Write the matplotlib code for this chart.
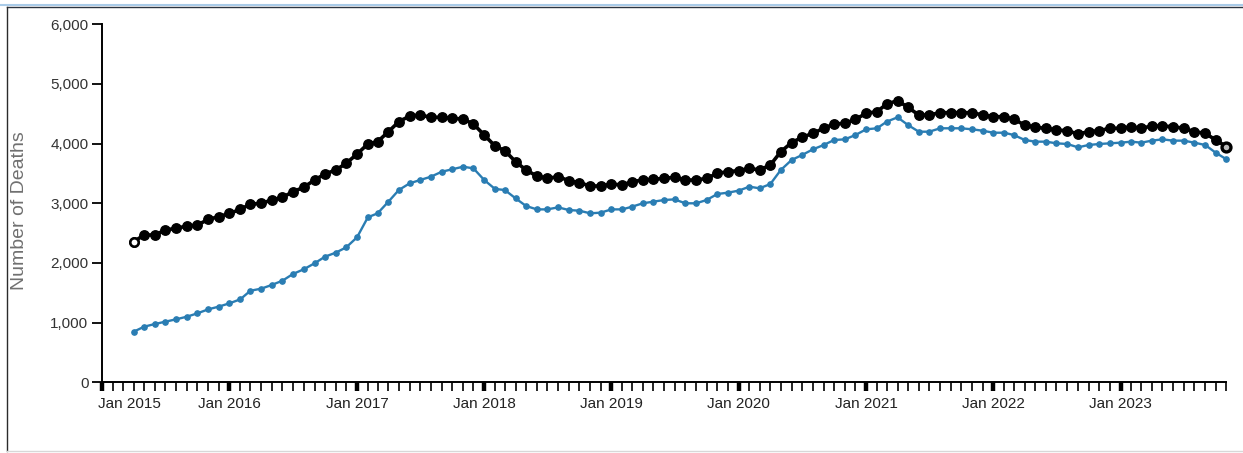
import matplotlib
matplotlib.use("Agg")
import matplotlib.pyplot as plt
import matplotlib.dates as mdates
from matplotlib.lines import Line2D
from matplotlib.transforms import ScaledTranslation
from matplotlib.ticker import FuncFormatter
import pandas as pd

# ---------------- data ----------------
start_month = "2015-04-01"
months = pd.date_range(start_month, periods=104, freq="MS")

total_deaths = [
    2356, 2469, 2469, 2552, 2581, 2619, 2636, 2731, 2775, 2831, 2898, 2987,
    2998, 3055, 3100, 3194, 3268, 3390, 3491, 3558, 3670, 3826, 3994, 4033,
    4200, 4368, 4463, 4480, 4441, 4441, 4424, 4413, 4329, 4144, 3960, 3882,
    3697, 3558, 3457, 3418, 3446, 3379, 3345, 3290, 3290, 3323, 3307, 3362,
    3390, 3402, 3418, 3435, 3390, 3390, 3418, 3502, 3530, 3547, 3586, 3558,
    3642, 3865, 4016, 4106, 4173, 4257, 4329, 4340, 4407, 4508, 4536, 4664,
    4720, 4609, 4480, 4480, 4519, 4519, 4519, 4519, 4480, 4452, 4452, 4407,
    4312, 4273, 4257, 4228, 4217, 4161, 4200, 4217, 4257, 4257, 4284, 4257,
    4295, 4295, 4284, 4257, 4200, 4173, 4061, 3949,
]

subset_deaths = [
    848, 932, 977, 1016, 1056, 1100, 1156, 1223, 1268, 1324, 1391, 1535,
    1569, 1631, 1703, 1815, 1894, 1994, 2105, 2173, 2262, 2430, 2765, 2832,
    3027, 3223, 3335, 3390, 3446, 3529, 3570, 3613, 3586, 3390, 3240, 3223,
    3083, 2955, 2898, 2898, 2932, 2887, 2876, 2832, 2843, 2898, 2898, 2943,
    3000, 3027, 3055, 3066, 3000, 3000, 3055, 3156, 3178, 3212, 3279, 3251,
    3323, 3558, 3726, 3809, 3904, 3977, 4061, 4072, 4144, 4240, 4257, 4368,
    4441, 4312, 4200, 4200, 4257, 4257, 4257, 4240, 4217, 4183, 4183, 4144,
    4061, 4033, 4033, 4005, 3994, 3938, 3977, 3994, 4005, 4016, 4033, 4016,
    4050, 4072, 4050, 4050, 4016, 3977, 3848, 3737,
]

y_ticks = [0, 1000, 2000, 3000, 4000, 5000, 6000]
y_label = "Number of Deaths"
x_start = "2015-01-01"

# ---------------- figure ----------------
W, H, DPI = 1243, 453, 100
fig = plt.figure(figsize=(W / DPI, H / DPI), dpi=DPI)
fig.patch.set_facecolor("white")

ax = fig.add_axes([102.3 / W, 1 - 382.3 / H, (1226.5 - 102.3) / W, (382.3 - 24.3) / H])
ax.set_facecolor("white")

font = "Liberation Sans"
teal = "#2a7db3"

ax.plot(months, total_deaths, color="black", lw=2.6, marker="o", ms=6.8,
        mfc="black", mec="black", zorder=3, clip_on=False)
ax.plot([months[0]], [total_deaths[0]], ls="none",
        marker="o", ms=6.0, mfc="white", mec="black", mew=1.8, zorder=4, clip_on=False)
ax.plot([months[-1]], [total_deaths[-1]], ls="none",
        marker="o", ms=6.4, mfc="#bbbbbb", mec="black", mew=2.4, zorder=4, clip_on=False)
ax.plot(months, subset_deaths, color=teal, lw=1.7, marker="o", ms=3.8,
        mfc=teal, mec=teal, zorder=5, clip_on=False)

ax.set_xlim(pd.Timestamp(x_start), months[-1])
ax.set_ylim(y_ticks[0], y_ticks[-1])

for s in ["top", "right"]:
    ax.spines[s].set_visible(False)
for s in ["left", "bottom"]:
    ax.spines[s].set_linewidth(1.4)
    ax.spines[s].set_color("black")

ax.set_yticks(y_ticks)
ax.yaxis.set_major_formatter(FuncFormatter(lambda v, p: f"{int(v):,}"))
ax.tick_params(axis="y", length=7, width=1.3, pad=3, labelsize=11,
               labelcolor="#333333", color="black")
for lab in ax.get_yticklabels():
    lab.set_fontfamily(font)

ax.xaxis.set_major_locator(mdates.YearLocator(month=1, day=1))
ax.xaxis.set_major_formatter(mdates.DateFormatter("Jan %Y"))
ax.xaxis.set_minor_locator(mdates.MonthLocator())
ax.tick_params(axis="x", which="major", length=6.5, width=3.2, pad=4,
               labelsize=11, labelcolor="#222222", color="black")
ax.tick_params(axis="x", which="minor", length=6.5, width=1.2, color="black")

fig.canvas.draw()
xlabels = ax.get_xticklabels()
for lab in xlabels:
    lab.set_fontfamily(font)
if xlabels:
    first = xlabels[0]
    first.set_transform(first.get_transform() + ScaledTranslation(27 / DPI, 0, fig.dpi_scale_trans))

fig.text(20 / W, 1 - 211 / H, y_label, rotation=90, ha="center", va="center",
         fontsize=14, color="#707070", family=font)

# container border
fig.add_artist(Line2D([0, 1], [1 - 5 / H, 1 - 5 / H], transform=fig.transFigure,
                      color="#a9cbe8", lw=1.5))
fig.add_artist(Line2D([7 / W, 1], [1 - 6.8 / H, 1 - 6.8 / H], transform=fig.transFigure,
                      color="#2b3440", lw=1.0))
fig.add_artist(Line2D([7 / W, 7 / W], [1 - 6.8 / H, 1 - 451 / H], transform=fig.transFigure,
                      color="#2b2b2b", lw=1.0))
fig.add_artist(Line2D([7 / W, 1], [1 - 450.5 / H, 1 - 450.5 / H], transform=fig.transFigure,
                      color="#d8d8d8", lw=1.0))

fig.savefig("out.png", dpi=DPI, facecolor="white")
